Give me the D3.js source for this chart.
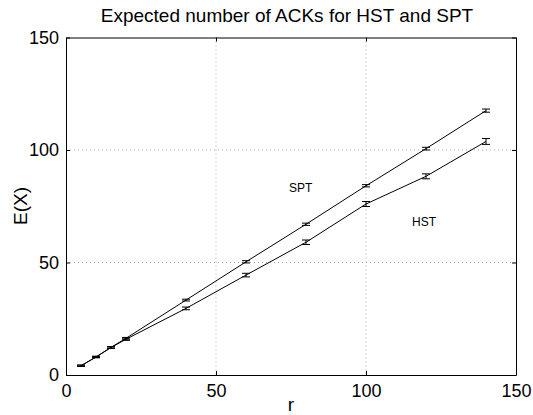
<!DOCTYPE html>
<html><head><meta charset="utf-8">
<script src="https://cdn.jsdelivr.net/npm/d3@7"></script>
<style>body{margin:0;background:#fff}text{font-family:"Liberation Sans",Arial,sans-serif;fill:#000}</style>
</head><body><svg id="c" width="533" height="415"></svg>
<script>
const rValues = [5, 10, 15, 20, 40, 60, 80, 100, 120, 140];
const sptMean = [4.1, 8.0, 12.3, 16.3, 33.3, 50.3, 67.0, 84.1, 100.6, 117.5];
const sptErr  = [0.3, 0.3, 0.3, 0.4, 0.4, 0.5, 0.5, 0.5, 0.6, 0.7];
const hstMean = [4.1, 8.0, 12.2, 15.9, 29.6, 44.4, 59.0, 76.0, 88.3, 103.8];
const hstErr  = [0.3, 0.3, 0.4, 0.5, 0.6, 0.8, 1.0, 1.1, 1.1, 1.3];
const xTicks = [0, 50, 100, 150];
const yTicks = [0, 50, 100, 150];

const svg = d3.select("#c");
const L = 66, R = 516, T = 37.5, B = 375;
const x = d3.scaleLinear().domain([0,150]).range([L,R]);
const y = d3.scaleLinear().domain([0,150]).range([B,T]);

// grid
const g = svg.append("g");
[50,100].forEach(v=>{
  g.append("line").attr("x1",x(v)).attr("x2",x(v)).attr("y1",T).attr("y2",B)
   .attr("stroke","#aaa").attr("stroke-width",1).attr("stroke-dasharray","1,3");
  g.append("line").attr("x1",L).attr("x2",R).attr("y1",y(v)).attr("y2",y(v))
   .attr("stroke","#aaa").attr("stroke-width",1).attr("stroke-dasharray","1,3");
});

// axes with inward ticks
const ax = svg.append("g").attr("transform",`translate(0,${B})`)
  .call(d3.axisBottom(x).tickValues(xTicks).tickSizeInner(-4).tickSizeOuter(0).tickPadding(9));
const ay = svg.append("g").attr("transform",`translate(${L},0)`)
  .call(d3.axisLeft(y).tickValues(yTicks).tickSizeInner(-4).tickSizeOuter(0).tickPadding(7));
const at = svg.append("g").attr("transform",`translate(0,${T})`)
  .call(d3.axisTop(x).tickValues(xTicks).tickSizeInner(-4).tickSizeOuter(0).tickFormat(""));
const ar = svg.append("g").attr("transform",`translate(${R},0)`)
  .call(d3.axisRight(y).tickValues(yTicks).tickSizeInner(-4).tickSizeOuter(0).tickFormat(""));
[ax,ay,at,ar].forEach(a=>{
  a.selectAll("path,line").attr("stroke","#000").attr("stroke-width",1);
  a.selectAll("text").style("font-size","18px").style("font-family",'"Liberation Sans",Arial,sans-serif').attr("fill","#000");
});

// series
function drawSeries(mean, err){
  const pts = rValues.map((r,i)=>({r, m:mean[i], e:err[i]}));
  svg.append("path").datum(pts)
    .attr("d", d3.line().x(d=>x(d.r)).y(d=>y(d.m)))
    .attr("fill","none").attr("stroke","#000").attr("stroke-width",1);
  const eb = svg.append("g").attr("stroke","#000").attr("stroke-width",1);
  pts.forEach(d=>{
    const cx = x(d.r), y1 = y(d.m - d.e), y2 = y(d.m + d.e);
    eb.append("line").attr("x1",cx).attr("x2",cx).attr("y1",y1).attr("y2",y2);
    eb.append("line").attr("x1",cx-4).attr("x2",cx+4).attr("y1",y1).attr("y2",y1);
    eb.append("line").attr("x1",cx-4).attr("x2",cx+4).attr("y1",y2).attr("y2",y2);
  });
}
drawSeries(sptMean, sptErr);
drawSeries(hstMean, hstErr);

// labels
svg.append("text").attr("x",289).attr("y",191.5).style("font-size","12px").text("SPT");
svg.append("text").attr("x",412).attr("y",226).style("font-size","12px").text("HST");
svg.append("text").attr("x",287).attr("y",22).attr("text-anchor","middle").style("font-size","19px")
  .text("Expected number of ACKs for HST and SPT");
svg.append("text").attr("x",291).attr("y",411).attr("text-anchor","middle").style("font-size","19px").text("r");
svg.append("text").attr("transform",`translate(27,206) rotate(-90)`).attr("text-anchor","middle").style("font-size","19px").text("E(X)");
</script></body></html>
